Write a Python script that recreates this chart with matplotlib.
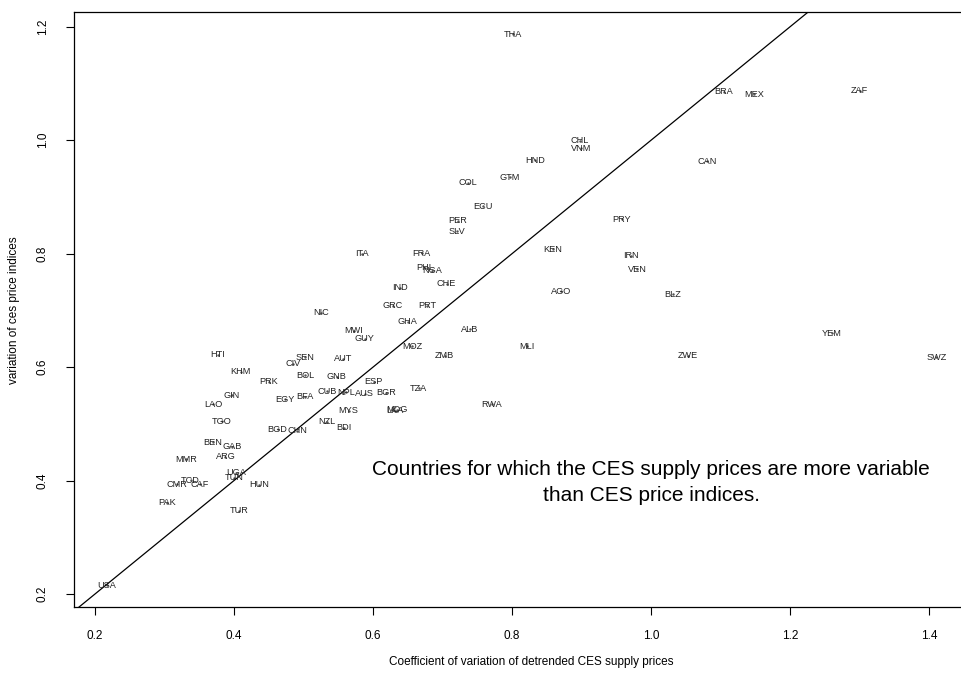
import matplotlib
matplotlib.use("Agg")
import matplotlib.pyplot as plt

plt.rcParams['font.family'] = ['Liberation Sans', 'DejaVu Sans']

# country codes and the two coefficients of variation
codes = ["THA", "BRA", "MEX", "ZAF", "CHL", "VNM", "HND", "CAN", "GTM", "COL",
         "ECU", "PER", "SLV", "PRY", "KEN", "IRN", "VEN", "ITA", "FRA", "PHL",
         "NGA", "IND", "CHE", "AGO", "BLZ", "GRC", "PRT", "NIC", "GHA", "MWI",
         "GUY", "ALB", "YEM", "MOZ", "MLI", "HTI", "SEN", "AUT", "ZMB", "ZWE",
         "SWZ", "CIV", "KHM", "BOL", "GNB", "PRK", "ESP", "TZA", "GIN", "CUB",
         "NPL", "AUS", "BGR", "EGY", "BFA", "LAO", "RWA", "MYS", "LKA", "MDG",
         "TGO", "BGD", "CHN", "NZL", "BDI", "BEN", "GAB", "MMR", "ARG", "UGA",
         "TUN", "TCD", "CMR", "CAF", "HUN", "PAK", "TUR", "USA"]
cv_supply = [0.801, 1.105, 1.148, 1.300, 0.898, 0.899, 0.833, 1.080, 0.797, 0.737,
             0.758, 0.722, 0.721, 0.958, 0.859, 0.971, 0.980, 0.584, 0.670, 0.675,
             0.685, 0.639, 0.706, 0.870, 1.031, 0.629, 0.678, 0.525, 0.650, 0.573,
             0.588, 0.739, 1.260, 0.656, 0.821, 0.377, 0.502, 0.557, 0.703, 1.053,
             1.410, 0.485, 0.410, 0.503, 0.548, 0.450, 0.601, 0.666, 0.397, 0.534,
             0.562, 0.588, 0.619, 0.473, 0.503, 0.370, 0.771, 0.565, 0.632, 0.634,
             0.383, 0.463, 0.491, 0.534, 0.558, 0.370, 0.397, 0.331, 0.388, 0.403,
             0.401, 0.338, 0.318, 0.351, 0.436, 0.304, 0.407, 0.217]
cv_index = [1.187, 1.085, 1.081, 1.087, 0.999, 0.986, 0.965, 0.963, 0.935, 0.925,
            0.884, 0.858, 0.840, 0.861, 0.808, 0.796, 0.773, 0.800, 0.801, 0.775,
            0.770, 0.740, 0.747, 0.734, 0.729, 0.708, 0.708, 0.696, 0.680, 0.664,
            0.650, 0.667, 0.660, 0.637, 0.637, 0.622, 0.618, 0.615, 0.620, 0.620,
            0.618, 0.606, 0.592, 0.586, 0.583, 0.574, 0.574, 0.563, 0.551, 0.558,
            0.556, 0.553, 0.555, 0.544, 0.548, 0.535, 0.535, 0.523, 0.523, 0.525,
            0.505, 0.491, 0.488, 0.504, 0.493, 0.468, 0.460, 0.438, 0.442, 0.414,
            0.405, 0.401, 0.394, 0.394, 0.393, 0.361, 0.347, 0.216]

x_ticks = [0.2, 0.4, 0.6, 0.8, 1.0, 1.2, 1.4]
y_ticks = [0.2, 0.4, 0.6, 0.8, 1.0, 1.2]

W, H = 962, 679
fig = plt.figure(figsize=(W / 100, H / 100), dpi=100)
# box is wider than the picture on the right, as in the original
left, right, top, bottom = 73.7, 969.6, 11.7, 607.3
ax = fig.add_axes([left / W, 1 - bottom / H, (right - left) / W, (bottom - top) / H])

ax.plot(cv_supply, cv_index, linestyle='none', marker='s', markersize=0.7,
        color='#555555')
for c, x, y in zip(codes, cv_supply, cv_index):
    ax.text(x, y, c, fontsize=6.6, ha='center', va='center', color='#222222')

ax.axline((0, 0), slope=1, color='black', linewidth=0.9)

ax.text(1.0, 0.397,
        "Countries for which the CES supply prices are more variable\nthan CES price indices.",
        fontsize=15, ha='center', va='center', multialignment='center',
        linespacing=1.45)

ax.set_xlim(0.1698, 1.458)
ax.set_ylim(0.177, 1.2264)
ax.set_xticks(x_ticks)
ax.set_xticklabels([f"{t:.1f}" for t in x_ticks])
ax.set_yticks(y_ticks)
ax.set_yticklabels([f"{t:.1f}" for t in y_ticks], rotation=90, va='center')
ax.tick_params(axis='both', direction='out', length=6, width=0.8, labelsize=8.5)
ax.tick_params(axis='x', pad=10)
ax.tick_params(axis='y', pad=12)
for s in ax.spines.values():
    s.set_linewidth(0.9)

fig.text(531 / W, 1 - 662 / H, "Coefficient of variation of detrended CES supply prices",
         fontsize=8.5, ha='center', va='center')
fig.text(14 / W, 1 - 310 / H, "variation of ces price indices",
         fontsize=8.5, ha='center', va='center', rotation=90)

fig.savefig("out.png", dpi=100)
